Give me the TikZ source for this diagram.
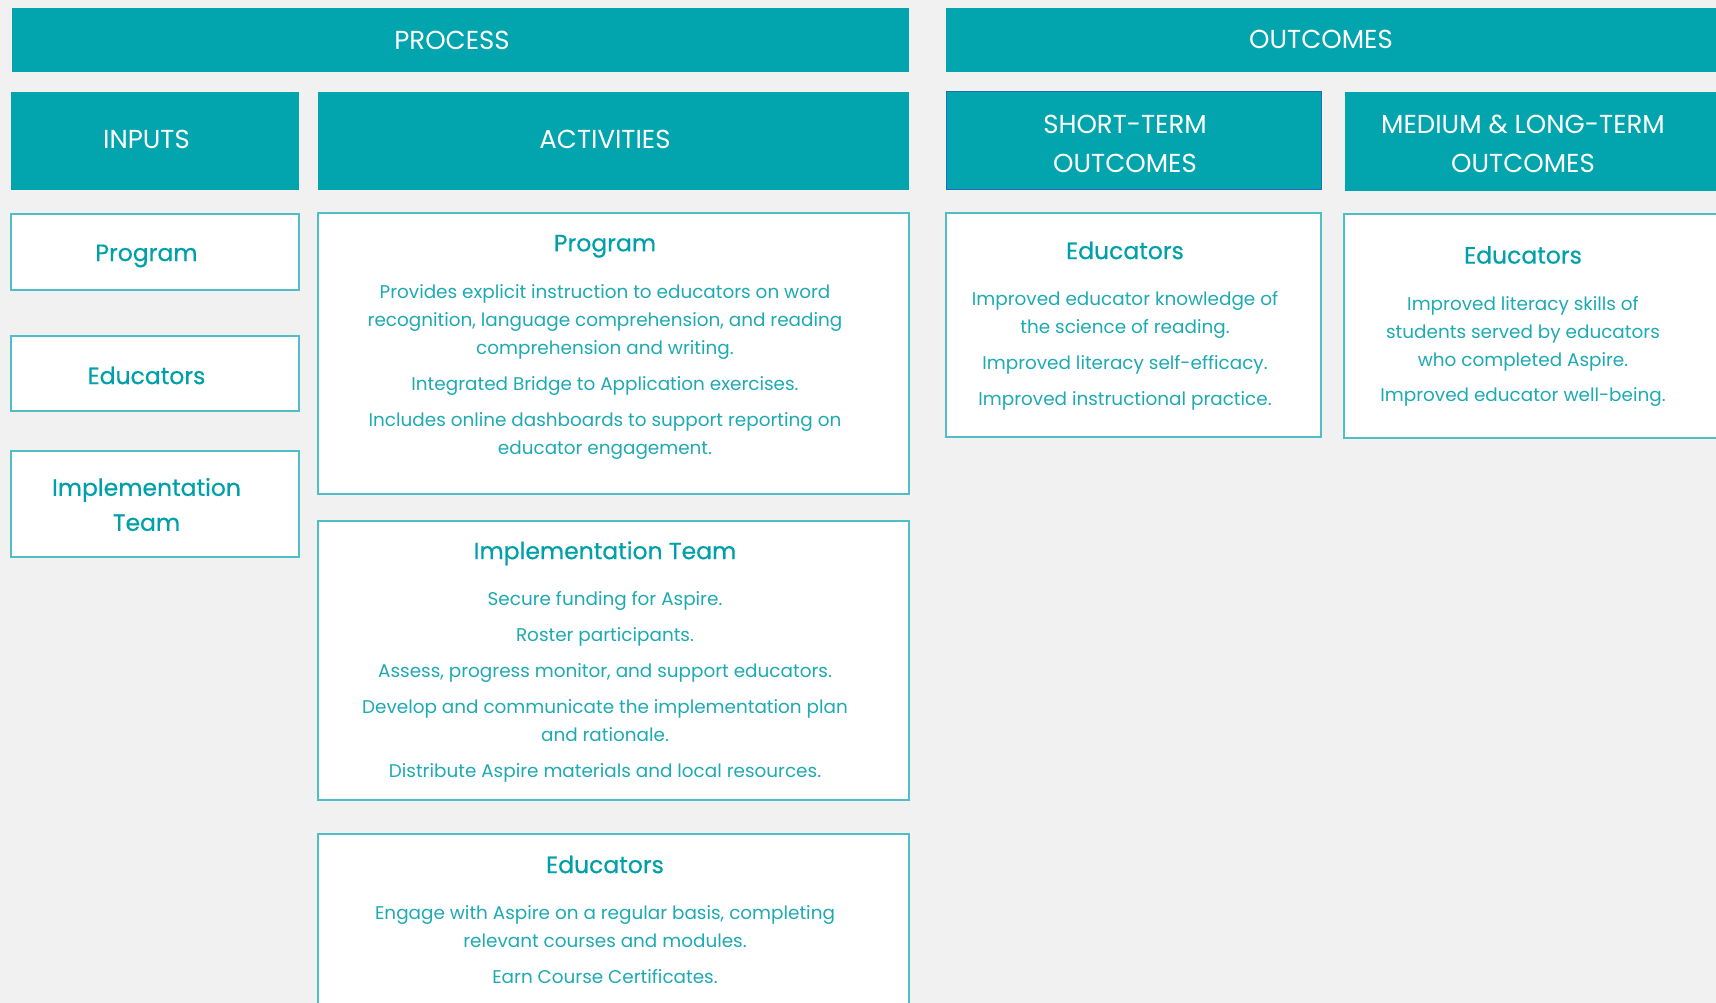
\documentclass[tikz,border=0pt]{standalone}
\usepackage{fontspec}
\setmainfont{Poppins}
\newfontfamily\medfont{Poppins}[FakeBold=0.5]

\definecolor{pagebg}{RGB}{240,241,240}
\definecolor{band}{RGB}{2,165,174}
\definecolor{bandedge}{RGB}{30,110,190}
\definecolor{cardline}{RGB}{80,190,198}
\definecolor{titlecol}{RGB}{0,160,170}
\definecolor{bodycol}{RGB}{30,170,178}

\tikzset{
  bandbox/.style={fill=band, draw=none},
  cardbox/.style={fill=white, draw=cardline, line width=1.5pt},
  bandtext/.style={text=white, inner sep=0pt, align=center,
    font=\fontsize{26}{39.4}\selectfont},
  cardtitle/.style={text=titlecol, inner sep=0pt, align=center,
    font=\medfont\fontsize{23.5}{35}\selectfont},
  cardbody/.style={text=bodycol, inner sep=0pt, align=center, anchor=north,
    font=\fontsize{18.4}{28}\selectfont},
}

\begin{document}
\begin{tikzpicture}[x=1pt,y=-1pt]
  \useasboundingbox (0,0) rectangle (1716,1003);
  \fill[pagebg] (0,0) rectangle (1716,1003);

  % top bands
  \path[bandbox] (12,8) rectangle (909,72);
  \path[bandbox] (946,8) rectangle (1720,72);
  \node[bandtext] (process) at (452,40) {PROCESS};
  \node[bandtext] (outcomes) at (1321,39) {OUTCOMES};

  % column headers
  \path[bandbox] (11,92) rectangle (299,190);
  \path[bandbox] (318,92) rectangle (909,190);
  \path[bandbox, draw=bandedge, line width=1pt] (946,92) rectangle (1321,190);
  \path[bandbox] (1345,92) rectangle (1720,191);
  \node[bandtext] (inputs) at (146.5,139) {INPUTS};
  \node[bandtext] (activities) at (605,139) {ACTIVITIES};
  \node[bandtext] (shortterm) at (1125,144) {SHORT-TERM\\OUTCOMES};
  \node[bandtext] (longterm) at (1523,144) {MEDIUM \& LONG-TERM\\OUTCOMES};

  % inputs column
  \path[cardbox] (11,214) rectangle (299,290);
  \path[cardbox] (11,336) rectangle (299,411);
  \path[cardbox] (11,451) rectangle (299,557);
  \node[cardtitle] (inProgram) at (146.5,256) {Program};
  \node[cardtitle] (inEducators) at (146.5,375.5) {Educators};
  \node[cardtitle] (inTeam) at (146.5,504.5) {Implementation\\Team};

  % activities column
  \path[cardbox] (318,213) rectangle (909,494);
  \node[cardtitle] (actProgram) at (605,246.3) {Program};
  \node[cardbody] (actProgramText) at (605,283.8) {Provides explicit instruction to educators on word\\
    recognition, language comprehension, and reading\\
    comprehension and writing.\\[8pt]
    Integrated Bridge to Application exercises.\\[8pt]
    Includes online dashboards to support reporting on\\
    educator engagement.};

  \path[cardbox] (318,521) rectangle (909,800);
  \node[cardtitle] (actTeam) at (605,553.3) {Implementation Team};
  \node[cardbody] (actTeamText) at (605,590.8) {Secure funding for Aspire.\\[8pt]
    Roster participants.\\[8pt]
    Assess, progress monitor, and support educators.\\[8pt]
    Develop and communicate the implementation plan\\
    and rationale.\\[8pt]
    Distribute Aspire materials and local resources.};

  \path[cardbox] (318,834) rectangle (909,1012);
  \node[cardtitle] (actEducators) at (605,864.5) {Educators};
  \node[cardbody] (actEducatorsText) at (605,904.8) {Engage with Aspire on a regular basis, completing\\
    relevant courses and modules.\\[8pt]
    Earn Course Certificates.};

  % outcomes columns
  \path[cardbox] (946,213) rectangle (1321,437);
  \node[cardtitle] (shortEducators) at (1125,250.5) {Educators};
  \node[cardbody] (shortText) at (1125,290.8) {Improved educator knowledge of\\
    the science of reading.\\[8pt]
    Improved literacy self-efficacy.\\[8pt]
    Improved instructional practice.};

  \path[cardbox] (1344,214) rectangle (1722,438);
  \node[cardtitle] (longEducators) at (1523,255) {Educators};
  \node[cardbody] (longText) at (1523,295.8) {Improved literacy skills of\\
    students served by educators\\
    who completed Aspire.\\[7pt]
    Improved educator well-being.};
\end{tikzpicture}
\end{document}
